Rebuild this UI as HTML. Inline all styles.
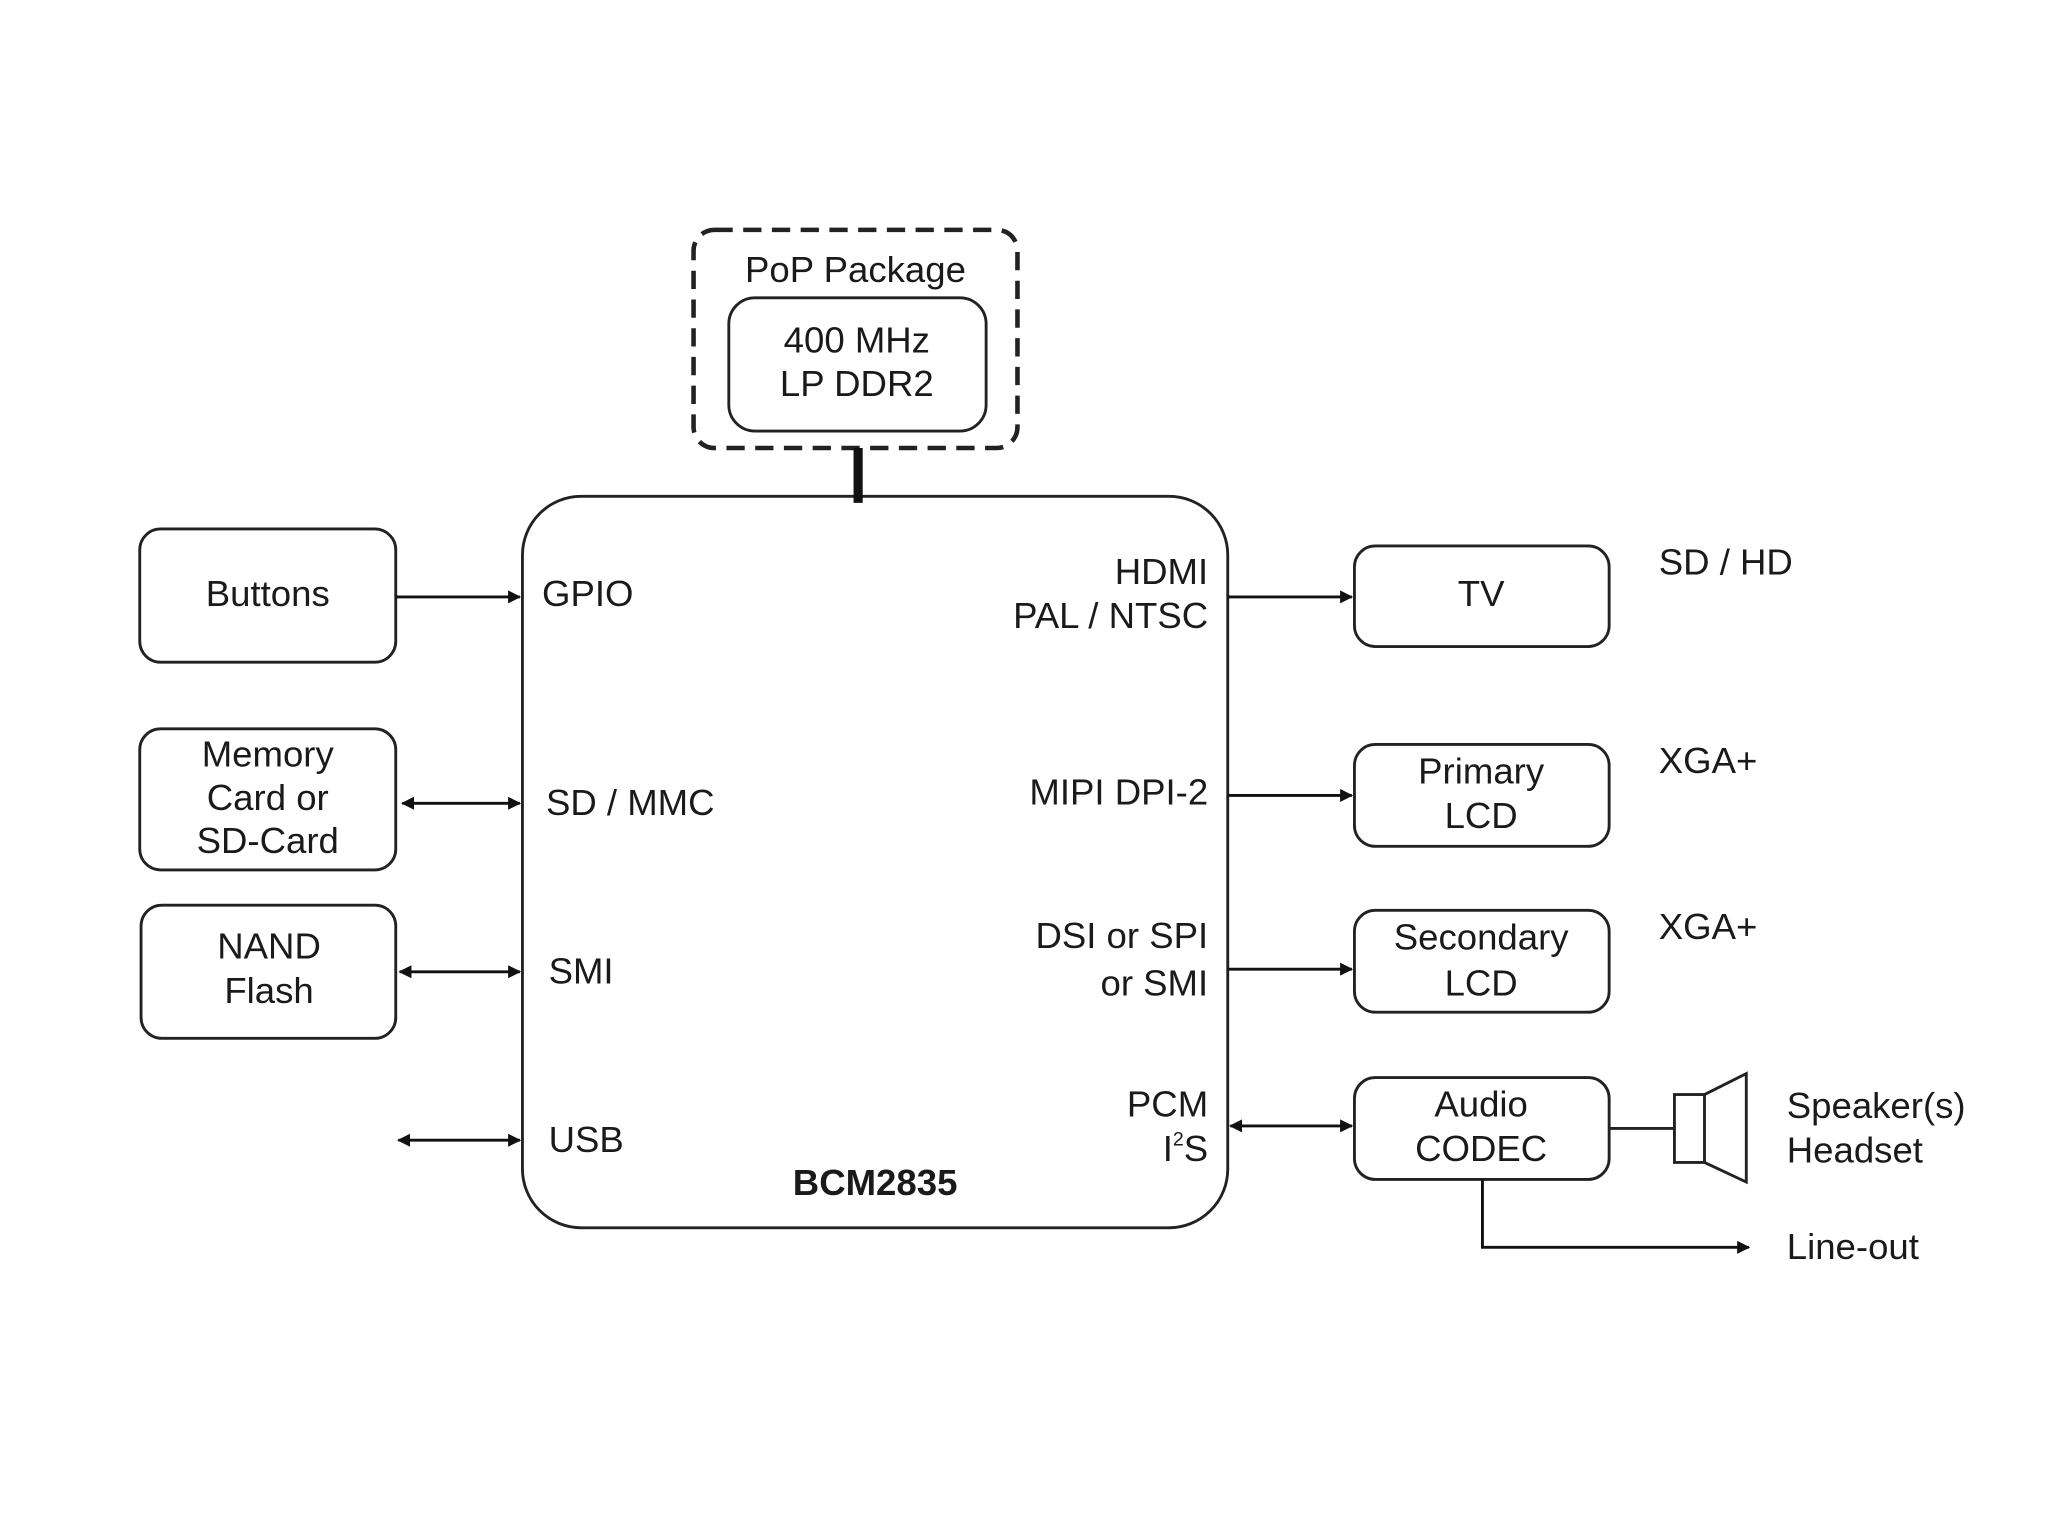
<!DOCTYPE html>
<html><head><meta charset="utf-8"><style>
html,body{margin:0;padding:0;background:#fff}
svg{display:block}
text{font-family:"Liberation Sans",Arial,sans-serif;fill:#1a1a1a;font-size:28px}
</style></head><body>
<svg width="2048" height="1536" viewBox="0 0 1568 1176" xmlns="http://www.w3.org/2000/svg">
<defs>
<marker id="a" markerWidth="10" markerHeight="10" refX="9" refY="5" orient="auto-start-reverse" markerUnits="userSpaceOnUse" viewBox="0 0 10 10">
<path d="M0,0 L10,5 L0,10 z" fill="#111"/></marker>
</defs>
<rect width="1568" height="1176" fill="#fff"/>
<g fill="none" stroke="#222" stroke-width="2.2">
<rect x="531" y="176" width="248" height="167" rx="16" stroke-dasharray="14,8" stroke-width="3.5"/>
<rect x="558" y="228" width="197" height="102" rx="20"/>
<rect x="400" y="380" width="540" height="560" rx="45"/>
<rect x="107" y="405" width="196" height="102" rx="16"/>
<rect x="107" y="558" width="196" height="108" rx="16"/>
<rect x="108" y="693" width="195" height="102" rx="16"/>
<rect x="1037" y="418" width="195" height="77" rx="16"/>
<rect x="1037" y="570" width="195" height="78" rx="16"/>
<rect x="1037" y="697" width="195" height="78" rx="16"/>
<rect x="1037" y="825" width="195" height="78" rx="16"/>
<rect x="1282" y="838" width="23" height="52"/>
<path d="M1305,838 L1337,822 L1337,905 L1305,890"/>
<path d="M1232,864 H1282"/>
</g>
<line x1="657" y1="343" x2="657" y2="385" stroke="#111" stroke-width="7"/>
<g stroke="#111" stroke-width="2.2" fill="none">
<path d="M303,457 H398" marker-end="url(#a)"/>
<path d="M308,615 H398" marker-start="url(#a)" marker-end="url(#a)"/>
<path d="M306,744 H398" marker-start="url(#a)" marker-end="url(#a)"/>
<path d="M305,873 H398" marker-start="url(#a)" marker-end="url(#a)"/>
<path d="M940,457 H1035" marker-end="url(#a)"/>
<path d="M940,609 H1035" marker-end="url(#a)"/>
<path d="M940,742 H1035" marker-end="url(#a)"/>
<path d="M942,862 H1035" marker-start="url(#a)" marker-end="url(#a)"/>
<path d="M1135,903 V955 H1339" marker-end="url(#a)"/>
</g>
<g text-anchor="middle">
<text x="655" y="216">PoP Package</text>
<text x="656" y="270">400 MHz</text>
<text x="656" y="303">LP DDR2</text>
<text x="205" y="464">Buttons</text>
<text x="205" y="587">Memory</text>
<text x="205" y="620">Card or</text>
<text x="205" y="653">SD-Card</text>
<text x="206" y="734">NAND</text>
<text x="206" y="768">Flash</text>
<text x="1134" y="464">TV</text>
<text x="1134" y="600">Primary</text>
<text x="1134" y="634">LCD</text>
<text x="1134" y="727">Secondary</text>
<text x="1134" y="762">LCD</text>
<text x="1134" y="855">Audio</text>
<text x="1134" y="889">CODEC</text>
<text x="670" y="915" font-size="40" font-weight="bold">BCM2835</text>
</g>
<text x="415" y="464">GPIO</text>
<text x="418" y="624">SD / MMC</text>
<text x="420" y="753">SMI</text>
<text x="420" y="882">USB</text>
<g text-anchor="end">
<text x="925" y="447">HDMI</text>
<text x="925" y="481">PAL / NTSC</text>
<text x="925" y="616">MIPI DPI-2</text>
<text x="925" y="726">DSI or SPI</text>
<text x="925" y="762">or SMI</text>
<text x="925" y="855">PCM</text>
<text x="925" y="889">I<tspan font-size="15" dy="-12">2</tspan><tspan dy="12">S</tspan></text>
</g>
<text x="1270" y="440">SD / HD</text>
<text x="1270" y="592">XGA+</text>
<text x="1270" y="719">XGA+</text>
<text x="1368" y="856">Speaker(s)</text>
<text x="1368" y="890">Headset</text>
<text x="1368" y="964">Line-out</text>
</svg>
</body></html>
